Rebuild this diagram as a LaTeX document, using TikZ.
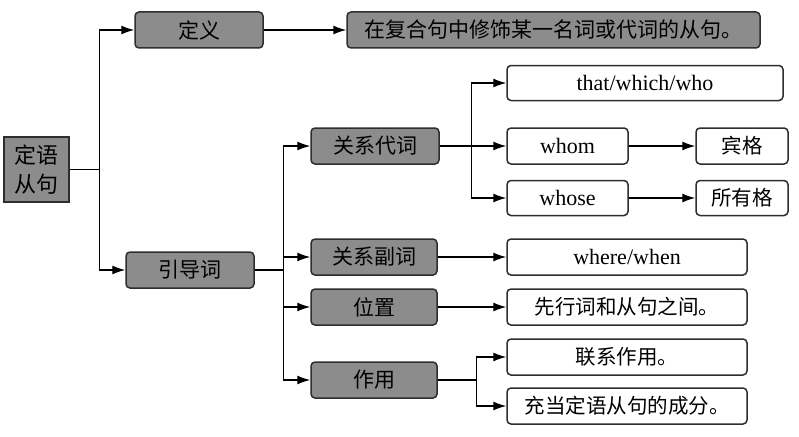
\documentclass[tikz,border=0pt]{standalone}
\usepackage{fontspec}
\setmainfont{Liberation Serif}
\newfontfamily\cjk{Noto Sans CJK SC}
\usetikzlibrary{arrows.meta}
\definecolor{boxgray}{HTML}{8C8C8C}
\definecolor{edge}{HTML}{2E2E2E}
\begin{document}
\begin{tikzpicture}[x=1pt, y=-1pt, >={Latex[length=13pt,width=9pt]}, line width=1.3pt,
  every node/.style={draw=edge, inner sep=0pt, rounded corners=4pt, line width=1.5pt},
  darkbox/.style={fill=boxgray, font=\cjk\fontsize{21}{25}\selectfont},
  zhbox/.style={fill=white, font=\cjk\fontsize{20.5}{24}\selectfont},
  enbox/.style={fill=white, font=\fontsize{22}{26}\selectfont}]
\useasboundingbox (0,0) rectangle (799,436);

\node [darkbox, rounded corners=0pt, minimum width=65pt, minimum height=65pt, align=center, font=\cjk\fontsize{22}{29}\selectfont] (root) at (36.5,169.5) {定语\\从句};
\node [darkbox, minimum width=128pt, minimum height=36pt] (dingyi) at (199,30) {定义};
\node [darkbox, minimum width=413pt, minimum height=36pt] (dytext) at (553.5,30) {在复合句中修饰某一名词或代词的从句。};
\node [darkbox, minimum width=128pt, minimum height=36pt] (yindao) at (190,270) {引导词};

\node [darkbox, minimum width=128pt, minimum height=36pt] (daici) at (375,146) {关系代词};
\node [darkbox, minimum width=126pt, minimum height=36pt] (fuci) at (374,257) {关系副词};
\node [darkbox, minimum width=126pt, minimum height=36pt] (weizhi) at (374,307) {位置};
\node [darkbox, minimum width=126pt, minimum height=36pt] (zuoyong) at (374,380) {作用};

\node [enbox, minimum width=276pt, minimum height=35pt] (that) at (645,83) {that/which/who};
\node [enbox, minimum width=121pt, minimum height=36pt] (whom) at (567.5,146) {whom};
\node [enbox, minimum width=121pt, minimum height=35pt] (whose) at (567.5,198) {whose};
\node [zhbox, minimum width=92pt, minimum height=36pt] (binge) at (742,146) {宾格};
\node [zhbox, minimum width=92pt, minimum height=35pt] (suoyou) at (742,198) {所有格};

\node [enbox, minimum width=240pt, minimum height=36pt] (where) at (627,257) {where/when};
\node [zhbox, minimum width=240pt, minimum height=36pt] (xianxing) at (627,307) {先行词和从句之间。};
\node [zhbox, minimum width=240pt, minimum height=36pt] (lianxi) at (627,357) {联系作用。};
\node [zhbox, minimum width=240pt, minimum height=36pt] (chengfen) at (627,406) {充当定语从句的成分。};

\draw (root.east)--++(30,0) coordinate (t1);
\draw [->] (t1)|-(dingyi.west);
\draw [->] (t1)|-(yindao.west);
\draw [->] (dingyi)--(dytext);

\draw (yindao.east)--++(29,0) coordinate (t2);
\draw [->] (t2)|-(daici.west);
\draw [->] (t2)|-(fuci.west);
\draw [->] (t2)|-(weizhi.west);
\draw [->] (t2)|-(zuoyong.west);

\draw (daici.east)--++(32,0) coordinate (t3);
\draw [->] (t3)|-(that.west);
\draw [->] (t3)--(whom.west);
\draw [->] (t3)|-(whose.west);
\draw [->] (whom)--(binge);
\draw [->] (whose)--(suoyou);

\draw [->] (fuci)--(where);
\draw [->] (weizhi)--(xianxing);
\draw (zuoyong.east)--++(39,0) coordinate (t4);
\draw [->] (t4)|-(lianxi.west);
\draw [->] (t4)|-(chengfen.west);
\end{tikzpicture}
\end{document}
